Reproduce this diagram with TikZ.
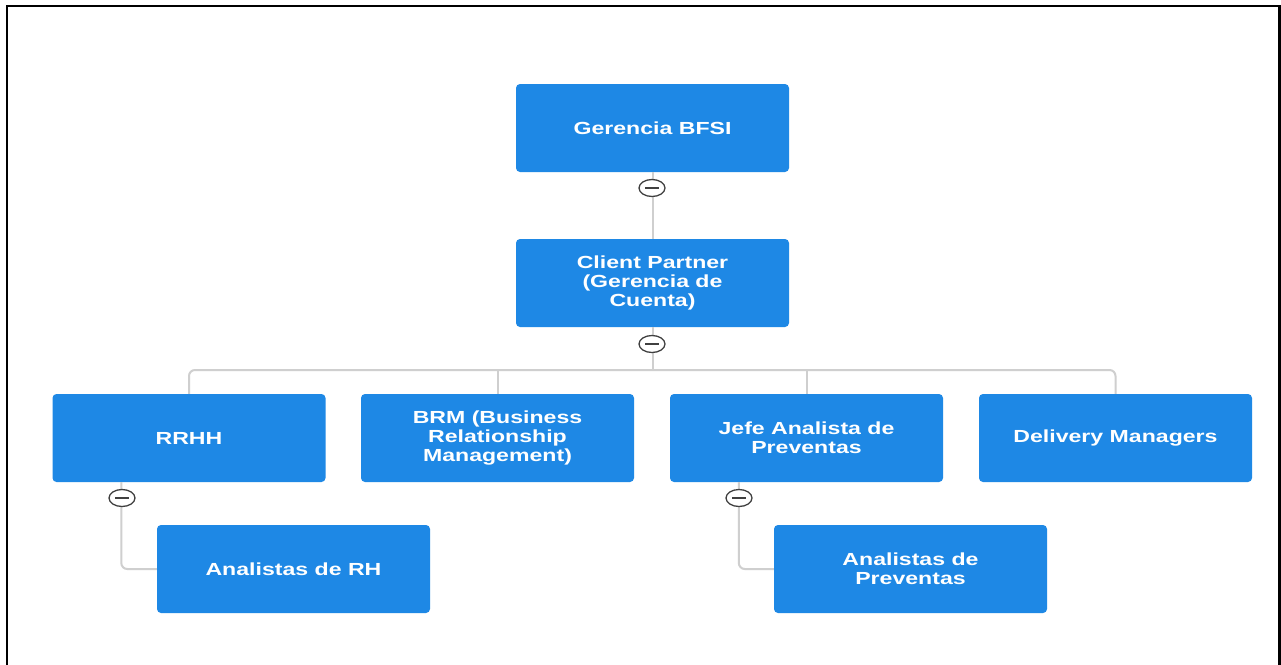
\documentclass[tikz,border=0pt]{standalone}
\usepackage{fontspec}
\newfontfamily\boxfont[FakeStretch=1.32]{Liberation Sans}
\usetikzlibrary{shapes.geometric}
\definecolor{boxblue}{HTML}{1E88E5}
\definecolor{connc}{HTML}{CFCFCF}
\definecolor{knob}{HTML}{404040}
\begin{document}
\begin{tikzpicture}[x=1pt,y=-1pt,
  orgbox/.style={rectangle, rounded corners=4pt, fill=boxblue, text=white,
    minimum width=273pt, minimum height=88pt, inner sep=0pt, align=center,
    font=\boxfont\bfseries\fontsize{17.5}{18.7}\selectfont},
  conn/.style={draw=connc, line width=2pt},
  toggle/.style={ellipse, draw=knob, fill=white, line width=1.3pt,
    minimum width=26pt, minimum height=17pt, inner sep=0pt,
    path picture={\draw[knob, line width=1.7pt]
      ([xshift=-7pt]path picture bounding box.center) --
      ([xshift=7pt]path picture bounding box.center);}}]
\useasboundingbox (0,0) rectangle (1281,664);
\begin{scope}
\clip (0,0) rectangle (1281,664);
\fill[white] (0,0) rectangle (1281,664);
\draw[black, line width=2.5pt] (7,6) rectangle (1279.5,700);
\end{scope}

\node[orgbox] (g)   at (652.5,128) {Gerencia BFSI};
\node[orgbox] (cp)  at (652.5,283) {Client Partner\\(Gerencia de\\Cuenta)};
\node[orgbox] (rr)  at (189,438)   {RRHH};
\node[orgbox] (brm) at (497.5,438) {BRM (Business\\Relationship\\Management)};
\node[orgbox] (jp)  at (806.5,438) {Jefe Analista de\\Preventas};
\node[orgbox] (dm)  at (1115.5,438) {Delivery Managers};
\node[orgbox] (arh) at (293.5,569) {Analistas de RH};
\node[orgbox] (ap)  at (910.5,569) {Analistas de\\Preventas};

\coordinate (busy) at (0,370);

% connectors
\draw[conn] (g.south) -- (cp.north);
\draw[conn] (cp.south) -- (cp.south |- busy);
\draw[conn, rounded corners=6pt] (rr.north) |- (dm.north |- busy) -- (dm.north);
\draw[conn] (brm.north) -- (brm.north |- busy);
\draw[conn] (jp.north) -- (jp.north |- busy);
\draw[conn, rounded corners=6pt] ([xshift=69pt]rr.south west) |- (arh.west);
\draw[conn, rounded corners=6pt] ([xshift=69pt]jp.south west) |- (ap.west);

% toggles
\node[toggle] (t1) at (652,188) {};
\node[toggle] (t2) at (652,344) {};
\node[toggle] (t3) at (122,498) {};
\node[toggle] (t4) at (739,498) {};
\end{tikzpicture}
\end{document}
